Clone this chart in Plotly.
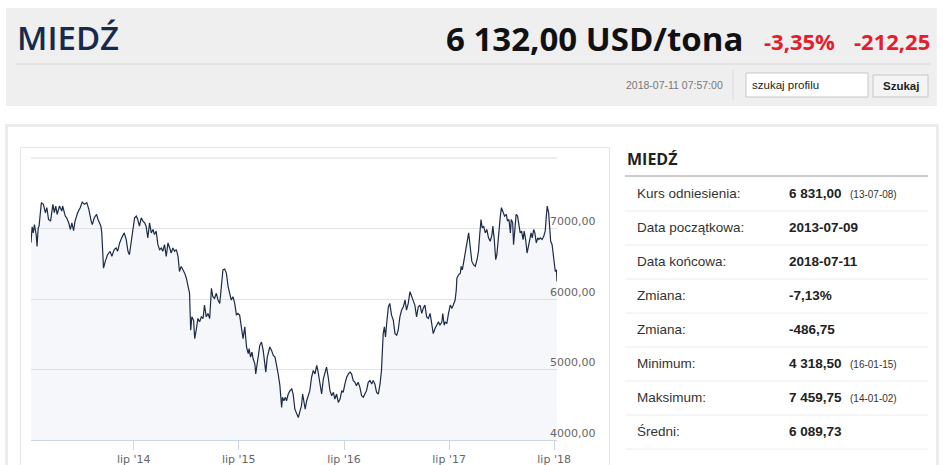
import pandas as pd
import plotly.graph_objects as go

# Copper price (USD/t); x = calendar days since start_date
start_date = "2013-07-09"
end_date = "2018-07-11"

days_2013 = [0, 4, 8, 12, 18, 21, 25, 28, 36, 43, 50, 55, 61, 68, 76, 81, 86, 91, 99, 107,
             110, 119, 124, 131, 137, 142, 148, 153, 162, 171, 178, 186, 194, 201, 209, 213, 220, 228, 233, 238,
             243, 246, 250, 252, 258, 266, 275, 281, 289, 296, 301, 308, 315, 324]
price_2013 = [6800, 7024, 6938, 7057, 6914, 6747, 7009, 7033, 7367, 7343, 7224, 7295, 7128, 7105, 7343, 7224, 7319, 7200, 7319, 7247,
              7319, 7176, 7152, 7081, 6986, 7081, 6971, 7105, 7224, 7295, 7376, 7343, 7367, 7271, 7105, 7057, 7152, 7200, 7128, 7081,
              7033, 6938, 6605, 6438, 6533, 6628, 6676, 6605, 6700, 6724, 6676, 6795, 6867, 6938]

days_2014 = [331, 337, 342, 348, 354, 360, 366, 371, 377, 383, 389, 395, 400, 406, 412, 418, 424, 429, 435, 441,
             447, 453, 458, 464, 470, 476, 482, 487, 493, 499, 505, 511, 516, 522, 528, 534, 540, 545, 551, 555,
             559, 565, 569, 574, 580, 586, 592, 598, 603, 609, 615, 621, 627, 632, 638, 644, 650, 656, 661, 667,
             673, 679, 685, 690, 696, 702, 708, 714, 719, 725, 731, 737, 743]
price_2014 = [6843, 6676, 6628, 6795, 6986, 7152, 7176, 7128, 7033, 7152, 7105, 7081, 7033, 6867, 7081, 6938, 6986, 6914, 6962, 6771,
              6700, 6724, 6676, 6771, 6605, 6795, 6724, 6652, 6724, 6676, 6700, 6605, 6390, 6462, 6414, 6367, 6295, 6176, 6081, 5557,
              5747, 5700, 5438, 5557, 5724, 5676, 5747, 5724, 5914, 5747, 5795, 5724, 6152, 6033, 6010, 6081, 5986, 5938, 6152, 6414,
              6424, 6367, 6176, 6105, 5986, 6033, 5938, 5771, 5795, 5771, 5605, 5438, 5605]

days_2015 = [749, 755, 758, 763, 768, 772, 778, 781, 786, 791, 795, 801, 807, 813, 816, 821, 826, 830, 836, 842,
             848, 853, 859, 865, 871, 874, 879, 884, 888, 894, 900, 906, 911, 917, 923, 929, 935, 940, 944, 949,
             953, 958, 964, 969, 975, 981, 987, 993, 998, 1004, 1010, 1016, 1022, 1027, 1033, 1039, 1045, 1051, 1056, 1062,
             1068, 1074, 1080, 1085, 1091, 1097, 1103, 1109]
price_2015 = [5319, 5224, 5295, 5176, 5247, 5152, 5081, 4938, 5128, 5224, 5343, 5390, 5271, 5081, 4962, 5176, 5247, 5319, 5271, 5200,
              5176, 5081, 4938, 4771, 4462, 4605, 4557, 4605, 4557, 4652, 4700, 4724, 4652, 4438, 4366, 4319, 4414, 4486, 4652, 4533,
              4438, 4557, 4652, 4700, 4890, 4986, 4938, 5057, 4962, 4795, 4652, 4867, 4986, 5033, 4890, 4700, 4628, 4676, 4581, 4652,
              4533, 4581, 4700, 4676, 4795, 4890, 4938, 4962]

days_2016 = [1114, 1120, 1126, 1131, 1137, 1143, 1149, 1155, 1160, 1166, 1172, 1178, 1184, 1189, 1195, 1201, 1207, 1213, 1218, 1224,
             1228, 1232, 1236, 1242, 1247, 1253, 1259, 1265, 1271, 1276, 1282, 1288, 1294, 1300, 1305, 1311, 1317, 1323, 1329, 1334,
             1340, 1346, 1352, 1358, 1363, 1369, 1375, 1381, 1387, 1392, 1398, 1404, 1410, 1416, 1421]
price_2016 = [4938, 4843, 4819, 4771, 4819, 4747, 4628, 4605, 4652, 4700, 4819, 4843, 4795, 4843, 4795, 4676, 4652, 4795, 4986, 5509,
              5605, 5462, 5652, 5890, 5938, 5771, 5700, 5509, 5486, 5557, 5747, 5843, 5890, 5986, 5843, 5938, 6105, 6033, 5986, 5914,
              5747, 5890, 5914, 5795, 5867, 5914, 5747, 5724, 5795, 5676, 5509, 5581, 5628, 5676, 5628]

days_2017 = [1428, 1431, 1436, 1439, 1445, 1451, 1457, 1463, 1468, 1474, 1478, 1480, 1486, 1492, 1495, 1499, 1503, 1509, 1515, 1521,
             1524, 1529, 1532, 1538, 1544, 1550, 1555, 1559, 1564, 1568, 1573, 1579, 1584, 1590, 1596, 1602, 1605, 1610, 1615, 1619,
             1625, 1631, 1635, 1640, 1646, 1652, 1656, 1661, 1666, 1669, 1674, 1677, 1682, 1686, 1691, 1696, 1700, 1705, 1710, 1714,
             1719, 1724, 1728, 1733, 1738, 1742, 1747, 1751, 1756, 1761, 1765, 1770, 1776, 1782, 1787, 1791, 1794, 1799, 1802, 1806,
             1811, 1814, 1819, 1822, 1826, 1828]
price_2017 = [5676, 5795, 5628, 5676, 5652, 5795, 5914, 5867, 5914, 5986, 6129, 6295, 6343, 6367, 6462, 6414, 6509, 6628, 6795, 6938,
              6843, 6628, 6533, 6486, 6462, 6557, 6676, 6890, 7128, 7009, 7033, 6938, 6986, 6867, 6819, 6914, 7033, 6843, 6557, 6628,
              6938, 7176, 7295, 7224, 7176, 7200, 7105, 7128, 6938, 7128, 7081, 6771, 6986, 7200, 7176, 7057, 6938, 6962, 6843, 6962,
              6843, 6652, 6747, 6843, 6938, 6867, 6986, 6938, 6795, 6867, 6843, 6867, 6843, 6890, 6962, 7176, 7319, 7224, 6986, 6819,
              6771, 6676, 6557, 6390, 6414, 6248]

tick_dates = ["2014-07-01", "2015-07-01", "2016-07-01", "2017-07-01", "2018-07-01"]
tick_labels = ["lip '14", "lip '15", "lip '16", "lip '17", "lip '18"]
price_ticks = [4000, 5000, 6000, 7000, 8000]
price_tick_labels = ["4000,00", "5000,00", "6000,00", "7000,00", ""]

stat_labels = ["Kurs odniesienia:", "Data początkowa:", "Data końcowa:", "Zmiana:",
               "Zmiana:", "Minimum:", "Maksimum:", "Średni:"]
stat_values = ["6 831,00", "2013-07-09", "2018-07-11", "-7,13%",
               "-486,75", "4 318,50", "7 459,75", "6 089,73"]
stat_notes = ["(13-07-08)", "", "", "", "", "(16-01-15)", "(14-01-02)", ""]

days = days_2013 + days_2014 + days_2015 + days_2016 + days_2017
prices = price_2013 + price_2014 + price_2015 + price_2016 + price_2017
dates = pd.Timestamp(start_date) + pd.to_timedelta(days, unit="D")

# page geometry (pixels) -> paper coords
W, H = 945, 465
L, R, T, B = 31, 388, 158, 25
PW, PH = W - L - R, H - T - B


def px(x):
    return (x - L) / PW


def py(y):
    return (H - B - y) / PH


fig = go.Figure()
fig.add_trace(go.Scatter(
    x=dates, y=prices,
    mode="lines",
    line=dict(color="#1c2b48", width=1.2),
    fill="tozeroy",
    fillcolor="rgba(200,210,225,0.18)",
    hoverinfo="skip",
    showlegend=False
))


def box(x0, y0, x1, y1, fill=None, line=None, lw=1):
    fig.add_shape(type="rect", xref="paper", yref="paper",
                  x0=px(x0), x1=px(x1), y0=py(y1), y1=py(y0),
                  fillcolor=fill or "rgba(0,0,0,0)",
                  line=dict(color=line or "rgba(0,0,0,0)", width=lw if line else 0),
                  layer="below")


def hline(x0, x1, y, color, lw=1):
    fig.add_shape(type="line", xref="paper", yref="paper",
                  x0=px(x0), x1=px(x1), y0=py(y), y1=py(y),
                  line=dict(color=color, width=lw), layer="below")


def vline(x, y0, y1, color, lw=1):
    fig.add_shape(type="line", xref="paper", yref="paper",
                  x0=px(x), x1=px(x), y0=py(y1), y1=py(y0),
                  line=dict(color=color, width=lw), layer="below")


def text(x, y, s, size, color, anchor="left", family="Liberation Sans", weight="normal"):
    fig.add_annotation(xref="paper", yref="paper", x=px(x), y=py(y),
                       text=s, showarrow=False, xanchor=anchor, yanchor="middle",
                       font=dict(family=family, size=size, color=color, weight=weight))


# header band
box(6, 8, 937, 106, fill="#efefef")
text(15, 37, "MIEDŹ", 33, "#162a4e", family="Open Sans", weight=600)
text(745, 38, "6 132,00 USD/tona", 33, "#111111", anchor="right", family="Open Sans", weight="bold")
text(837, 41, "-3,35%", 22, "#e31e2d", anchor="right", family="Open Sans", weight="bold")
text(932, 41, "-212,25", 22, "#e31e2d", anchor="right", family="Open Sans", weight="bold")
hline(16, 930, 64, "#d6d6d6")
text(725, 85, "2018-07-11 07:57:00", 10.5, "#777777", anchor="right")
vline(733, 70, 100, "#d9d9d9")
box(746, 73, 868, 97, fill="#ffffff", line="#c6c6c6")
text(750, 85, "szukaj profilu", 11.5, "#222222")
box(873, 75, 928, 97, fill="#f4f4f4", line="#c6c6c6")
text(900.5, 86, "Szukaj", 11.5, "#222222", anchor="center", weight="bold")

# lower panel and chart box (open at the bottom, they run off the page)
hline(5, 938, 125.5, "#ebebeb", lw=3)
vline(6.5, 125, 465, "#ebebeb", lw=3)
vline(937.5, 125, 465, "#ebebeb", lw=3)
hline(20, 610, 147.5, "#e6e6e6")
vline(20.5, 147, 465, "#e6e6e6")
vline(609.5, 147, 465, "#e6e6e6")

# top gridline (plotly drops the one sitting on the plot edge)
hline(L, W - R, T, "#dcdcdc")

# right-hand stats table
text(625, 159, "MIEDŹ", 16, "#222222", family="Open Sans", weight="bold")
hline(625, 928, 176, "#9a9a9a")
for i, (lab, val, note) in enumerate(zip(stat_labels, stat_values, stat_notes)):
    yc = 193 + i * 34
    text(635, yc, lab, 13.5, "#333333")
    text(787, yc, val, 13.5, "#222222", weight="bold")
    if note:
        text(848, yc + 1, note, 10, "#333333")
    hline(625, 928, yc + 18, "#ececec")

fig.update_layout(
    width=W, height=H,
    margin=dict(l=L, r=R, t=T, b=B),
    paper_bgcolor="#ffffff",
    plot_bgcolor="rgba(0,0,0,0)",
    showlegend=False,
    xaxis=dict(
        type="date",
        range=[start_date, end_date],
        tickvals=tick_dates, ticktext=tick_labels,
        showgrid=False, zeroline=False,
        showline=True, linecolor="#ccd6eb", linewidth=1,
        ticks="outside", ticklen=9, tickcolor="#ccd6eb",
        tickfont=dict(family="DejaVu Sans", size=11, color="#666666"),
        automargin=False, fixedrange=True
    ),
    yaxis=dict(
        side="right",
        range=[4000, 8000],
        tickvals=price_ticks, ticktext=price_tick_labels,
        showgrid=True, gridcolor="#e3e3e3", gridwidth=1,
        zeroline=False, showline=False, ticks="",
        ticklabelposition="outside",
        ticklabelstandoff=-8, ticklabelshift=-7,
        tickfont=dict(family="DejaVu Sans", size=11, color="#666666"),
        automargin=False, fixedrange=True
    )
)

# drop the browser's default 8px body margin so the page sits at 0,0
fig.write_html("out.html", config={"displayModeBar": False},
               post_script="document.body.style.margin='0';")
